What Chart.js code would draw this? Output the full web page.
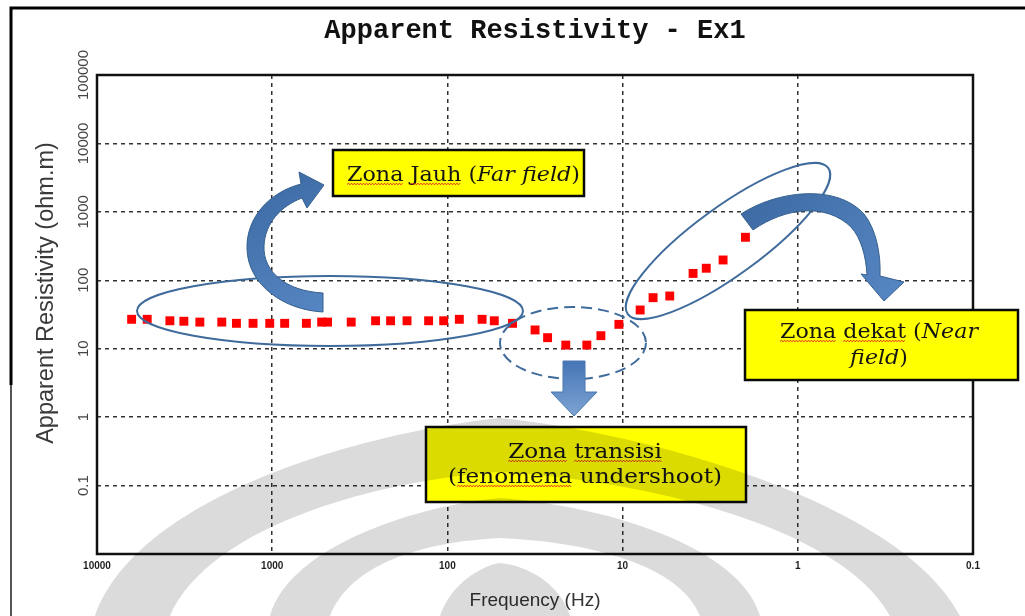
<!DOCTYPE html>
<html>
<head>
<meta charset="utf-8">
<title>Apparent Resistivity - Ex1</title>
<script src="https://cdn.jsdelivr.net/npm/chart.js@4.4.1/dist/chart.umd.min.js"></script>
<style>
  html, body { margin: 0; padding: 0; background: #ffffff; }
  #wrap { width: 1025px; height: 616px; position: relative; }
</style>
</head>
<body>
<div id="wrap"><canvas id="chart" width="1025" height="616"></canvas></div>
<script>
// Sounding frequencies (Hz) and apparent resistivity (ohm.m), Ex1 component
const frequencies = [6344, 5169, 3837, 3193, 2588, 1940, 1600, 1286, 1033, 849,
                     638, 522, 483, 354, 257, 211, 170, 128, 105, 85.5,
                     63.4, 54, 42.5, 31.6, 26.8, 21.1, 16.0, 13.3, 10.5, 7.94,
                     6.70, 5.38, 3.96, 3.33, 2.67, 1.99];
const resistivity = [26.9, 26.9, 25.6, 25.2, 24.5, 24.5, 23.5, 23.5, 23.5, 23.5,
                     23.5, 24.5, 24.5, 24.5, 25.6, 25.6, 25.6, 25.6, 25.6, 26.9,
                     26.9, 25.6, 23.5, 18.8, 14.5, 11.3, 11.3, 15.5, 22.7, 36.8,
                     55.7, 58.9, 126, 150, 198, 425];

// Axis ticks
const xTickValues = [10000, 1000, 100, 10, 1, 0.1];
const xTickLabels = ['10000', '1000', '100', '10', '1', '0.1'];
const yTickValues = [0.01, 0.1, 1, 10, 100, 1000, 10000, 100000];
const yTickLabels = ['', '0.1', '1', '10', '100', '1000', '10000', '100000'];

const points = frequencies.map((f, i) => ({ x: f, y: resistivity[i] }));

const BLUE_LINE = '#3f6b9c';
const SERIF = '"DejaVu Serif", "Liberation Serif", serif';

// ---------- drawing helpers ----------
function squiggle(ctx, x1, x2, y) {
  ctx.save();
  ctx.strokeStyle = '#e3261f';
  ctx.lineWidth = 1;
  ctx.beginPath();
  let up = true;
  ctx.moveTo(x1, y);
  for (let x = x1 + 1.5; x <= x2; x += 1.5) {
    ctx.lineTo(x, up ? y - 1.3 : y + 0.3);
    up = !up;
  }
  ctx.stroke();
  ctx.restore();
}

function runFont(run, size) {
  return (run.i ? 'italic ' : '') + size + 'px ' + SERIF;
}

function lineWidth(ctx, runs, size) {
  let w = 0;
  runs.forEach(r => { ctx.font = runFont(r, size); w += ctx.measureText(r.t).width; });
  return w;
}

// Draws a text box: yellow fill, black frame, centred lines of mixed regular / italic runs
function textBox(ctx, box) {
  ctx.save();
  ctx.fillStyle = '#ffff00';
  ctx.fillRect(box.x, box.y, box.w, box.h);
  ctx.strokeStyle = '#0a0a0a';
  ctx.lineWidth = 2.5;
  ctx.strokeRect(box.x, box.y, box.w, box.h);

  const size = box.size;
  const widest = Math.max(...box.lines.map(l => lineWidth(ctx, l.runs, size)));
  const sx = box.fitWidth / widest;
  box.lines.forEach(line => {
    const w = lineWidth(ctx, line.runs, size);
    ctx.save();
    ctx.translate(box.cx, line.base);
    ctx.scale(sx, 1);
    let x = -w / 2;
    const marks = [];
    line.runs.forEach(r => {
      ctx.font = runFont(r, size);
      ctx.fillStyle = '#141414';
      ctx.textBaseline = 'alphabetic';
      ctx.textAlign = 'left';
      ctx.fillText(r.t, x, 0);
      const rw = ctx.measureText(r.t).width;
      if (r.sq) marks.push([x, x + rw]);
      x += rw;
    });
    ctx.restore();
    marks.forEach(m => squiggle(ctx, box.cx + m[0] * sx, box.cx + m[1] * sx, line.base + 3.5));
  });
  ctx.restore();
}

function ellipse(ctx, cx, cy, rx, ry, rot, dash) {
  ctx.save();
  ctx.strokeStyle = BLUE_LINE;
  ctx.lineWidth = 2;
  ctx.setLineDash(dash || []);
  ctx.beginPath();
  ctx.ellipse(cx, cy, rx, ry, rot, 0, Math.PI * 2);
  ctx.stroke();
  ctx.restore();
}

function blueFill(ctx, x0, y0, x1, y1) {
  const g = ctx.createLinearGradient(x0, y0, x1, y1);
  g.addColorStop(0, '#3d6aa3');
  g.addColorStop(1, '#5585c2');
  return g;
}

// Curved arrow pointing up-right towards the far-field label
function farArrow(ctx) {
  ctx.save();
  ctx.beginPath();
  ctx.moveTo(323, 293);
  ctx.bezierCurveTo(286, 291, 263, 272, 264, 246);
  ctx.bezierCurveTo(265, 223, 281, 206, 302, 198);
  ctx.lineTo(307, 208);
  ctx.lineTo(324, 185);
  ctx.lineTo(299, 172);
  ctx.lineTo(301, 184);
  ctx.bezierCurveTo(270, 192, 246, 217, 247, 249);
  ctx.bezierCurveTo(248, 285, 284, 310, 323, 312);
  ctx.closePath();
  ctx.fillStyle = blueFill(ctx, 250, 180, 320, 310);
  ctx.fill();
  ctx.strokeStyle = '#35608f';
  ctx.lineWidth = 1;
  ctx.stroke();
  ctx.restore();
}

// Curved arrow arching over to the near-field label
function nearArrow(ctx) {
  ctx.save();
  ctx.beginPath();
  ctx.moveTo(741, 214);
  ctx.bezierCurveTo(776, 191, 836, 183, 864, 214);
  ctx.bezierCurveTo(876, 229, 881, 254, 880, 276);
  ctx.lineTo(904, 282);
  ctx.lineTo(884, 301);
  ctx.lineTo(861, 274);
  ctx.lineTo(867, 275);
  ctx.bezierCurveTo(866, 256, 861, 238, 851, 227);
  ctx.bezierCurveTo(826, 203, 786, 207, 753, 230);
  ctx.closePath();
  ctx.fillStyle = blueFill(ctx, 750, 190, 890, 300);
  ctx.fill();
  ctx.strokeStyle = '#35608f';
  ctx.lineWidth = 1;
  ctx.stroke();
  ctx.restore();
}

// Block arrow pointing down to the transition label
function downArrow(ctx) {
  ctx.save();
  const g = ctx.createLinearGradient(0, 361, 0, 416);
  g.addColorStop(0, '#4575b6');
  g.addColorStop(1, '#7ea3d3');
  ctx.beginPath();
  ctx.moveTo(563, 361);
  ctx.lineTo(585, 361);
  ctx.lineTo(585, 392);
  ctx.lineTo(597, 392);
  ctx.lineTo(574, 416);
  ctx.lineTo(551, 392);
  ctx.lineTo(563, 392);
  ctx.closePath();
  ctx.fillStyle = g;
  ctx.fill();
  ctx.strokeStyle = '#4a78b0';
  ctx.lineWidth = 1;
  ctx.stroke();
  ctx.restore();
}

// Faint emblem behind the lower part of the figure
function emblem(ctx) {
  ctx.save();
  ctx.fillStyle = 'rgba(0,0,0,0.14)';
  // outer pointed arch
  ctx.beginPath();
  ctx.moveTo(95, 616);
  ctx.bezierCurveTo(140, 490, 380, 430, 500, 418);
  ctx.bezierCurveTo(640, 432, 900, 500, 960, 616);
  ctx.lineTo(890, 616);
  ctx.bezierCurveTo(840, 525, 640, 480, 500, 472);
  ctx.bezierCurveTo(380, 480, 210, 525, 170, 616);
  ctx.closePath();
  ctx.fill();
  // inner arch
  ctx.beginPath();
  ctx.moveTo(270, 616);
  ctx.bezierCurveTo(290, 545, 420, 505, 500, 498);
  ctx.bezierCurveTo(600, 505, 740, 545, 760, 616);
  ctx.lineTo(700, 616);
  ctx.bezierCurveTo(680, 565, 590, 542, 500, 538);
  ctx.bezierCurveTo(420, 542, 350, 565, 330, 616);
  ctx.closePath();
  ctx.fill();
  // central petal
  ctx.beginPath();
  ctx.moveTo(440, 616);
  ctx.bezierCurveTo(450, 585, 480, 566, 500, 563);
  ctx.bezierCurveTo(530, 566, 560, 585, 570, 616);
  ctx.closePath();
  ctx.fill();
  ctx.restore();
}

// ---------- plugin: frame, rotated y labels, callouts ----------
const decorations = {
  id: 'decorations',
  beforeDraw(chart) {
    const ctx = chart.ctx;
    ctx.save();
    ctx.fillStyle = '#ffffff';
    ctx.fillRect(0, 0, chart.width, chart.height);
    // outer figure border
    ctx.strokeStyle = '#000000';
    ctx.lineWidth = 3;
    ctx.beginPath();
    ctx.moveTo(11, 385);
    ctx.lineTo(11, 8);
    ctx.lineTo(1025, 8);
    ctx.stroke();
    ctx.strokeStyle = '#555555';
    ctx.lineWidth = 2;
    ctx.beginPath();
    ctx.moveTo(11, 385);
    ctx.lineTo(11, 616);
    ctx.stroke();
    ctx.restore();
  },
  afterDatasetsDraw(chart) {
    const ctx = chart.ctx;
    const a = chart.chartArea;
    const ys = chart.scales.y;

    // plot frame
    ctx.save();
    ctx.strokeStyle = '#111111';
    ctx.lineWidth = 2.5;
    ctx.strokeRect(a.left, a.top, a.right - a.left, a.bottom - a.top);

    // vertical tick labels on the y axis
    ctx.fillStyle = '#444444';
    ctx.font = '15px "Liberation Sans", Arial, sans-serif';
    ctx.textAlign = 'center';
    ctx.textBaseline = 'middle';
    yTickValues.forEach((v, i) => {
      if (!yTickLabels[i]) return;
      const y = ys.getPixelForValue(v);
      ctx.save();
      ctx.translate(84, y);
      ctx.rotate(-Math.PI / 2);
      ctx.fillText(yTickLabels[i], 0, 0);
      ctx.restore();
    });

    // y axis title
    ctx.save();
    ctx.fillStyle = '#3a3a3a';
    ctx.font = '23.5px "Liberation Sans", Arial, sans-serif';
    ctx.translate(47, 293);
    ctx.rotate(-Math.PI / 2);
    ctx.fillText('Apparent Resistivity (ohm.m)', 0, 0);
    ctx.restore();
    ctx.restore();

    // zone outlines
    ellipse(ctx, 330, 311, 193, 35, 0);
    ellipse(ctx, 573, 343, 73, 36, 0, [11, 6]);
    ellipse(ctx, 728, 241, 124, 34, -0.63);

    // arrows
    farArrow(ctx);
    nearArrow(ctx);
    downArrow(ctx);

    // labels
    textBox(ctx, {
      x: 333, y: 150, w: 251, h: 46, cx: 463.5, size: 21, fitWidth: 233,
      lines: [{ base: 181, runs: [{ t: 'Zona', sq: 1 }, { t: ' ' }, { t: 'Jauh', sq: 1 }, { t: ' (' }, { t: 'Far field', i: 1 }, { t: ')' }] }]
    });
    textBox(ctx, {
      x: 745, y: 310, w: 273, h: 70, cx: 879, size: 21, fitWidth: 198,
      lines: [
        { base: 338, runs: [{ t: 'Zona', sq: 1 }, { t: ' ' }, { t: 'dekat', sq: 1 }, { t: ' (' }, { t: 'Near', i: 1 }] },
        { base: 364, runs: [{ t: 'field', i: 1 }, { t: ')' }] }
      ]
    });
    textBox(ctx, {
      x: 426, y: 427, w: 320, h: 75, cx: 585, size: 21, fitWidth: 274,
      lines: [
        { base: 458, runs: [{ t: 'Zona', sq: 1 }, { t: ' ' }, { t: 'transisi', sq: 1 }] },
        { base: 483, runs: [{ t: '(' }, { t: 'fenomena', sq: 1 }, { t: ' undershoot)' }] }
      ]
    });
  },
  afterDraw(chart) {
    emblem(chart.ctx);
  }
};

new Chart(document.getElementById('chart'), {
  type: 'scatter',
  data: {
    datasets: [{
      label: 'Apparent resistivity',
      data: points,
      pointStyle: 'rect',
      pointRadius: 6.3,
      pointHoverRadius: 6.3,
      backgroundColor: '#ff0000',
      borderWidth: 0
    }]
  },
  options: {
    responsive: false,
    devicePixelRatio: 1,
    animation: false,
    layout: { padding: { left: 0, right: 52, top: 0, bottom: 0 } },
    plugins: {
      legend: { display: false },
      tooltip: { enabled: false },
      title: {
        display: true,
        fullSize: false,
        text: 'Apparent Resistivity - Ex1',
        color: '#111111',
        font: { family: '"Liberation Mono", "Courier New", monospace', size: 27, weight: 'bold' },
        padding: { top: 15.5, bottom: 27.1 }
      }
    },
    scales: {
      x: {
        type: 'logarithmic',
        reverse: true,
        min: 0.1,
        max: 10000,
        afterBuildTicks: s => { s.ticks = xTickValues.map(v => ({ value: v })); },
        afterFit: s => { s.height = 62; },
        ticks: {
          autoSkip: false,
          maxRotation: 0,
          minRotation: 0,
          padding: 6,
          color: '#1e1e1e',
          font: { family: '"Liberation Sans Narrow", "Liberation Sans", Arial, sans-serif', size: 10, weight: 'bold' },
          callback: (v, i) => xTickLabels[i]
        },
        grid: { color: '#333333', lineWidth: 1.5, drawTicks: false },
        border: { display: false, dash: [4, 4] },
        title: {
          display: true,
          text: 'Frequency (Hz)',
          color: '#333333',
          font: { family: '"Liberation Sans", Arial, sans-serif', size: 19 },
          padding: { top: 0, bottom: 4 }
        }
      },
      y: {
        type: 'logarithmic',
        min: 0.01,
        max: 100000,
        afterBuildTicks: s => { s.ticks = yTickValues.map(v => ({ value: v })); },
        afterFit: s => { s.width = 97; },
        ticks: { display: false },
        grid: { color: '#333333', lineWidth: 1.5, drawTicks: false },
        border: { display: false, dash: [4, 4] }
      }
    }
  },
  plugins: [decorations]
});
</script>
</body>
</html>
